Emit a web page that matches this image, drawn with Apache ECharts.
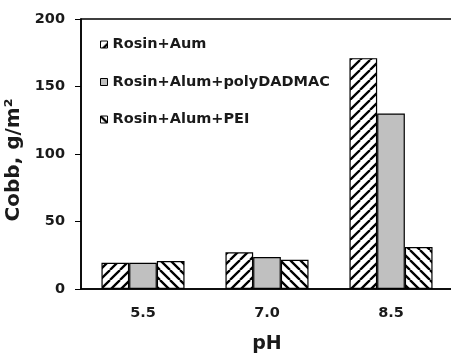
<!DOCTYPE html>
<html><head><meta charset="utf-8">
<script src="https://cdn.jsdelivr.net/npm/echarts@6/dist/echarts.min.js"></script>
<style>html,body{margin:0;padding:0;background:#fff}#c{width:451px;height:355px}</style>
</head><body><div id="c"></div>
<script>
const categories = ['5.5', '7.0', '8.5'];
const seriesNames = ['Rosin+Aum', 'Rosin+Alum+polyDADMAC', 'Rosin+Alum+PEI'];
const aumValues = [19.5, 27.2, 171];
const polyValues = [19.5, 23.7, 130];
const peiValues = [20.7, 21.7, 31.1];
const yTicks = [0, 50, 100, 150, 200];

function hatch(dir) {
  const s = 10;
  const c = document.createElement('canvas');
  c.width = s; c.height = s;
  const g = c.getContext('2d');
  g.fillStyle = '#fff'; g.fillRect(0, 0, s, s);
  g.strokeStyle = '#000'; g.lineWidth = 2.3;
  g.beginPath();
  for (let k = -1; k <= 1; k++) {
    if (dir > 0) { g.moveTo(k * s, s); g.lineTo(k * s + s, 0); }
    else { g.moveTo(k * s, 0); g.lineTo(k * s + s, s); }
  }
  g.stroke();
  return { image: c, repeat: 'repeat' };
}

const chart = echarts.init(document.getElementById('c'), null, { renderer: 'canvas' });
const font = 'DejaVu Sans, sans-serif';
const txt = '#1a1a1a';
const fills = [hatch(1), '#c0c0c0', hatch(-1)];
const values = [aumValues, polyValues, peiValues];
chart.setOption({
  animation: false,
  backgroundColor: '#fff',
  grid: { left: 81, top: 19, right: -2, bottom: 66, show: true, borderColor: '#000', borderWidth: 1.5,
          containLabel: false, outerBoundsMode: 'none' },
  legend: {
    orient: 'vertical', left: 95, top: 32, itemGap: 22.5, itemWidth: 7, itemHeight: 7, icon: 'rect',
    data: seriesNames,
    textStyle: { fontFamily: font, fontWeight: 'bold', fontSize: 14.5, color: txt },
    itemStyle: { borderColor: '#000', borderWidth: 1 }
  },
  xAxis: {
    type: 'category', data: categories,
    name: 'pH', nameLocation: 'middle', nameGap: 46,
    nameTextStyle: { fontFamily: font, fontWeight: 'bold', fontSize: 19, color: txt },
    axisLine: { lineStyle: { color: '#000', width: 1.5 } },
    axisTick: { inside: true, length: 5, lineStyle: { color: '#000', width: 1.5 } },
    axisLabel: { fontFamily: font, fontWeight: 'bold', fontSize: 14.5, color: txt, margin: 17 }
  },
  yAxis: {
    type: 'value', min: yTicks[0], max: yTicks[yTicks.length - 1], interval: yTicks[1] - yTicks[0],
    name: 'Cobb, g/m²', nameLocation: 'middle', nameGap: 56, nameRotate: 90,
    nameTextStyle: { fontFamily: font, fontWeight: 'bold', fontSize: 20, color: txt, padding: [0, 12, 0, 0] },
    splitLine: { show: false },
    axisLine: { show: true, lineStyle: { color: '#000', width: 1.5 } },
    axisTick: { show: true, length: 6, lineStyle: { color: '#000', width: 1 } },
    axisLabel: { fontFamily: font, fontWeight: 'bold', fontSize: 14.5, color: txt, margin: 16 }
  },
  series: seriesNames.map((n, i) => ({
    name: n, type: 'bar', data: values[i],
    barGap: '0%', barCategoryGap: '33%',
    itemStyle: { color: fills[i], borderColor: '#000', borderWidth: 1.2 }
  }))
});
</script></body></html>
